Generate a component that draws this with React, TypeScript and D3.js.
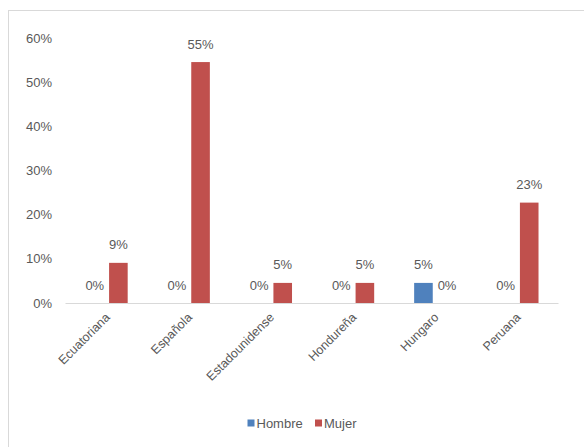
import React from "react";
import * as d3 from "d3";

const categories = ["Ecuatoriana", "Española", "Estadounidense", "Hondureña", "Hungaro", "Peruana"];
const hombre = [0, 0, 0, 0, 0.0455, 0];
const mujer = [0.0909, 0.5455, 0.0455, 0.0455, 0, 0.2273];
const yTicks = [0, 0.1, 0.2, 0.3, 0.4, 0.5, 0.6];
const seriesNames = ["Hombre", "Mujer"];
const colors = ["#4f81bd", "#c0504d"];

const W = 584, H = 447;
const FONT = "'Liberation Sans', Arial, sans-serif";
const TXT = "#595959";

export default function App() {
  const x = d3.scaleBand<string>().domain(categories).range([65.5, 558.5]);
  const y = d3.scaleLinear().domain([0, 0.6]).range([303, 38]);
  const bw = 18.6, gap = 5;
  const fmt = d3.format(".0%");
  const series = [hombre, mujer];
  return (
    <svg width={W} height={H} style={{ position: "absolute", left: 0, top: 0, background: "#fff" }} fontFamily={FONT}>
      <rect x={8.5} y={10.5} width={700} height={600} fill="#fff" stroke="#d9d9d9" strokeWidth={1} />
      {yTicks.map((t) => (
        <text key={t} x={52} y={y(t)} dy="0.35em" textAnchor="end" fontSize={13} fill={TXT}>{fmt(t)}</text>
      ))}
      {categories.map((c, i) => {
        const cx = (x(c) as number) + x.bandwidth() / 2;
        return (
          <g key={c}>
            {series.map((s, k) => {
              const bx = k === 0 ? cx - gap / 2 - bw : cx + gap / 2;
              const v = s[i];
              return (
                <g key={k}>
                  <rect x={bx} y={y(v)} width={bw} height={y(0) - y(v)} fill={colors[k]} />
                  <text x={bx + bw / 2} y={y(v) - 13.5} textAnchor="middle" fontSize={13} fill={TXT}>{fmt(v)}</text>
                </g>
              );
            })}
            <text transform={`translate(${cx + 1},${315}) rotate(-45)`} textAnchor="end" dy="0.35em" fontSize={12.5} fill={TXT}>{c}</text>
          </g>
        );
      })}
      <line x1={x.range()[0]} x2={x.range()[1]} y1={303.5} y2={303.5} stroke="#d9d9d9" strokeWidth={1} />
      {seriesNames.map((n, k) => {
        const lx = k === 0 ? 247.5 : 315;
        return (
          <g key={n}>
            <rect x={lx} y={419.5} width={7} height={7} fill={colors[k]} />
            <text x={lx + 9} y={423} dy="0.35em" fontSize={13} fill={TXT}>{n}</text>
          </g>
        );
      })}
    </svg>
  );
}
